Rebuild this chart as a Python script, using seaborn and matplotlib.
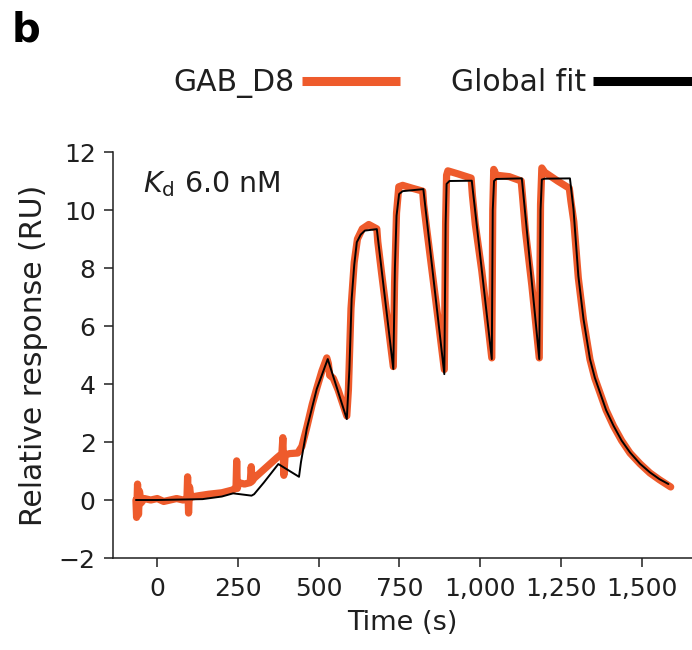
import matplotlib
matplotlib.use("Agg")
import matplotlib.pyplot as plt
import pandas as pd
import seaborn as sns
from matplotlib.lines import Line2D
from matplotlib.ticker import FuncFormatter

data_time = [-66, -64, -61, -58, -55, -50, -40, -20, 0, 20, 40, 60, 80, 92, 94, 97, 100, 104,
             130, 160, 200, 235, 244, 246, 248, 252, 270, 288, 291, 294, 300, 320, 345, 370,
             386, 389, 392, 396, 410, 435, 448, 463, 480, 494, 510, 525, 530, 534, 545, 560,
             587, 592, 600, 610, 620, 635, 655, 680, 683, 695, 731, 735, 741, 748, 760,
             790, 822, 825, 835, 860, 889, 893, 896, 900, 930, 972, 976, 985, 1005, 1036,
             1039, 1042, 1050, 1090, 1127, 1131, 1140, 1160, 1183, 1187, 1191, 1200, 1240,
             1276, 1281, 1290, 1304, 1320, 1340, 1355, 1371, 1390, 1413, 1438, 1464, 1495,
             1526, 1555, 1590]
data_ru = [0.0, -0.6, 0.55, -0.5, 0.3, -0.1, 0.05, 0.0, 0.05, -0.05, 0.0, 0.05, 0.0, 0.05, 0.8,
           -0.45, 0.45, 0.1, 0.15, 0.2, 0.25, 0.35, 0.45, 1.35, 0.4, 0.6, 0.55, 0.6, 1.15, 0.65,
           0.75, 0.95, 1.2, 1.45, 1.6, 2.15, 0.85, 1.55, 1.6, 1.62, 1.85, 2.5, 3.3, 3.85, 4.45,
           4.9, 4.7, 4.3, 4.2, 3.8, 2.9, 3.8, 6.6, 8.2, 9.0, 9.35, 9.5, 9.35, 8.9, 7.8,
           4.6, 7.5, 9.9, 10.8, 10.85, 10.75, 10.65, 10.2, 9.3, 7.1, 4.5, 9.6, 11.2, 11.35,
           11.25, 11.1, 10.5, 9.5, 7.9, 4.9, 10.0, 11.4, 11.2, 11.15, 11.0, 10.5, 9.3, 7.4, 4.9,
           10.2, 11.45, 11.3, 11.0, 10.75, 10.3, 9.6, 7.65, 6.2, 4.85, 4.2, 3.7, 3.1, 2.55, 2.05,
           1.62, 1.25, 0.93, 0.7, 0.45]

# global fit curve
fit_time = [-66, 0, 140, 200, 235, 292, 300, 330, 375, 439, 445, 463, 494, 528, 587, 595, 602,
            610, 618, 630, 643, 680, 731, 736, 741, 749, 760, 824, 889, 893, 896, 905, 974,
            1036, 1039, 1043, 1050, 1129, 1183, 1187, 1191, 1200, 1278, 1289, 1304, 1320,
            1340, 1355, 1371, 1390, 1413, 1438, 1464, 1495, 1526, 1555, 1583]
fit_ru = [0.0, 0.0, 0.03, 0.12, 0.23, 0.15, 0.2, 0.6, 1.24, 0.8, 1.3, 2.45, 3.83, 4.86, 2.79,
          4.5, 6.93, 8.1, 8.89, 9.15, 9.29, 9.34, 4.52, 8.0, 9.8, 10.55, 10.65, 10.72, 4.34,
          9.5, 10.9, 11.0, 11.01, 4.86, 10.0, 11.0, 11.07, 11.09, 4.86, 10.0, 11.05, 11.08,
          11.09, 10.03, 7.73, 6.24, 4.86, 4.22, 3.71, 3.1, 2.56, 2.05, 1.64, 1.25, 0.95,
          0.72, 0.55]

x_ticks = [0, 250, 500, 750, 1000, 1250, 1500]
y_ticks = [-2, 0, 2, 4, 6, 8, 10, 12]

orange = "#EE5B2C"
text_col = "#1f1f1f"

sns.set_style("ticks")
plt.rcParams["font.family"] = ["DejaVu Sans"]
plt.rcParams["mathtext.fontset"] = "dejavusans"

df_data = pd.DataFrame({"time": data_time, "ru": data_ru})
df_fit = pd.DataFrame({"time": fit_time, "ru": fit_ru})

fig = plt.figure(figsize=(6.92, 6.5), dpi=100)
ax = fig.add_axes([113 / 692, 92 / 650, 579 / 692, 406 / 650])

sns.lineplot(data=df_data, x="time", y="ru", ax=ax, color=orange, lw=5.2,
             estimator=None, sort=False, solid_capstyle="round", solid_joinstyle="round")
sns.lineplot(data=df_fit, x="time", y="ru", ax=ax, color="black", lw=1.4,
             estimator=None, sort=False)

ax.set_xlim(-137, 1656)
ax.set_ylim(-2, 12)
ax.set_xticks(x_ticks)
ax.set_yticks(y_ticks)
ax.xaxis.set_major_formatter(FuncFormatter(lambda v, p: f"{int(v):,}"))
ax.yaxis.set_major_formatter(FuncFormatter(lambda v, p: f"{int(v)}".replace("-", "\u2212")))
ax.tick_params(axis="both", length=6.5, width=1.1, labelsize=18, colors=text_col,
               labelcolor=text_col)
ax.tick_params(axis="x", pad=7)
ax.tick_params(axis="y", pad=6)
sns.despine(ax=ax)
for s in ["left", "bottom"]:
    ax.spines[s].set_linewidth(1.1)
    ax.spines[s].set_color(text_col)

ax.set_xlabel("Time (s)", fontsize=19.5, color=text_col, labelpad=7)
ax.set_ylabel("Relative response (RU)", fontsize=21.5, color=text_col, labelpad=8)

ax.text(-44, 10.9, r"$K_\mathrm{d}$ 6.0 nM", fontsize=20.5, color=text_col, va="center")

handles = [Line2D([], [], color=orange, lw=6.5, solid_capstyle="butt"),
           Line2D([], [], color="black", lw=6.5, solid_capstyle="butt")]
fig.legend(handles, ["GAB_D8", "Global fit"], loc="center left",
           bbox_to_anchor=(158 / 692, 1 - 83 / 650), ncol=2, frameon=False,
           markerfirst=False, fontsize=21.5, handlelength=3.3, handletextpad=0.25,
           columnspacing=1.7, borderpad=0, labelcolor=text_col)

fig.text(12 / 692, 1 - 10 / 650, "b", fontsize=29, fontweight="bold", va="top", ha="left",
         color="black")

fig.savefig("out.png", dpi=100)
